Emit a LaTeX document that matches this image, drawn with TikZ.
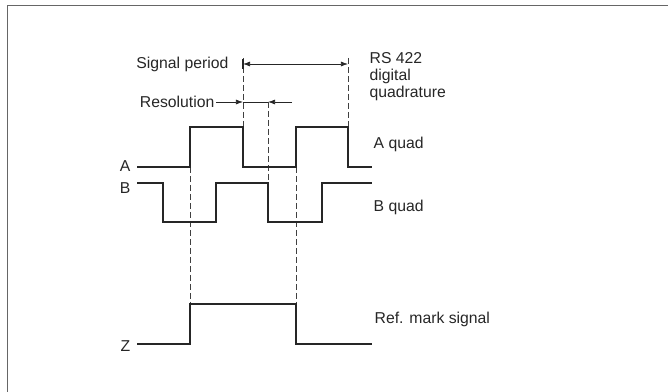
\documentclass[tikz,border=0pt]{standalone}
\usepackage{fontspec}
\setmainfont{Liberation Sans}
\usetikzlibrary{arrows.meta}
\tikzset{
 wave/.style={line width=0.85pt, draw=black!85},
 guide/.style={line width=0.6pt, draw=black!75, dash pattern=on 4.2pt off 2.2pt},
 lbl/.style={inner sep=1pt, font=\fontsize{11.2}{12}\selectfont, text=black!85},
 dim/.style={line width=0.5pt, draw=black!85, -{Latex[length=5pt,width=3.5pt]}}
}
\begin{document}
\begin{tikzpicture}[x=0.025cm,y=-0.025cm]
\useasboundingbox (0,0) rectangle (668,392);
%draw frame:
\draw [line width=1.3pt, black!60] (7.5,392) -- (7.5,5.5) -- (668,5.5);
%draw labels:
\node [lbl, anchor=east] (labA) at (132,166) {A};
\node [lbl, anchor=east] (labB) at (132,188) {B};
\node [lbl, anchor=east] (labZ) at (132,346) {Z};
\node [lbl, anchor=east] (period) at (230,64) {Signal period};
\node [lbl, anchor=east] (resol) at (216,102) {Resolution};
\node [lbl, anchor=north west, align=left] (rsq) at (368,51) {RS 422\\digital\\quadrature};
\node [lbl, anchor=west] (aquad) at (372,144) {A quad};
\node [lbl, anchor=west] (bquad) at (372,207) {B quad};
\node [lbl, anchor=west] (refmark) at (373,319) {Ref. mark signal};
%draw guide lines:
\draw [guide] (190,167) -- (190,304);
\draw [guide] (296,167) -- (296,304);
\draw [guide] (243,58) -- (243,127);
\draw [guide] (348,58) -- (348,127);
\draw [guide] (268,102) -- (268,222);
%draw signals:
\draw [wave] (137,167) -- (190,167) -- (190,127) -- (243,127) -- (243,167)
 -- (296,167) -- (296,127) -- (348,127) -- (348,167) -- (372,167);
\draw [wave] (137,183) -- (163,183) -- (163,222) -- (216,222) -- (216,183)
 -- (268,183) -- (268,222) -- (322,222) -- (322,183) -- (372,183);
\draw [wave] (137,344) -- (190,344) -- (190,304) -- (296,304) -- (296,344) -- (372,344);
%draw dimensions:
\coordinate (pL) at (243,64);
\coordinate (pR) at (348,64);
\draw [dim, {Latex[length=5pt,width=3.5pt]}-{Latex[length=5pt,width=3.5pt]}] (pL) -- (pR);
\draw [line width=0.8pt, black!85] (243,59) -- (243,69);
\coordinate (r1) at (243,102);
\coordinate (r2) at (268,102);
\coordinate (r3) at (292,102);
\draw [dim] (resol.east) -- (r1);
\draw [line width=0.5pt, black!85] (r1) -- (r2);
\draw [dim] (r3) -- (r2);
\end{tikzpicture}
\end{document}
